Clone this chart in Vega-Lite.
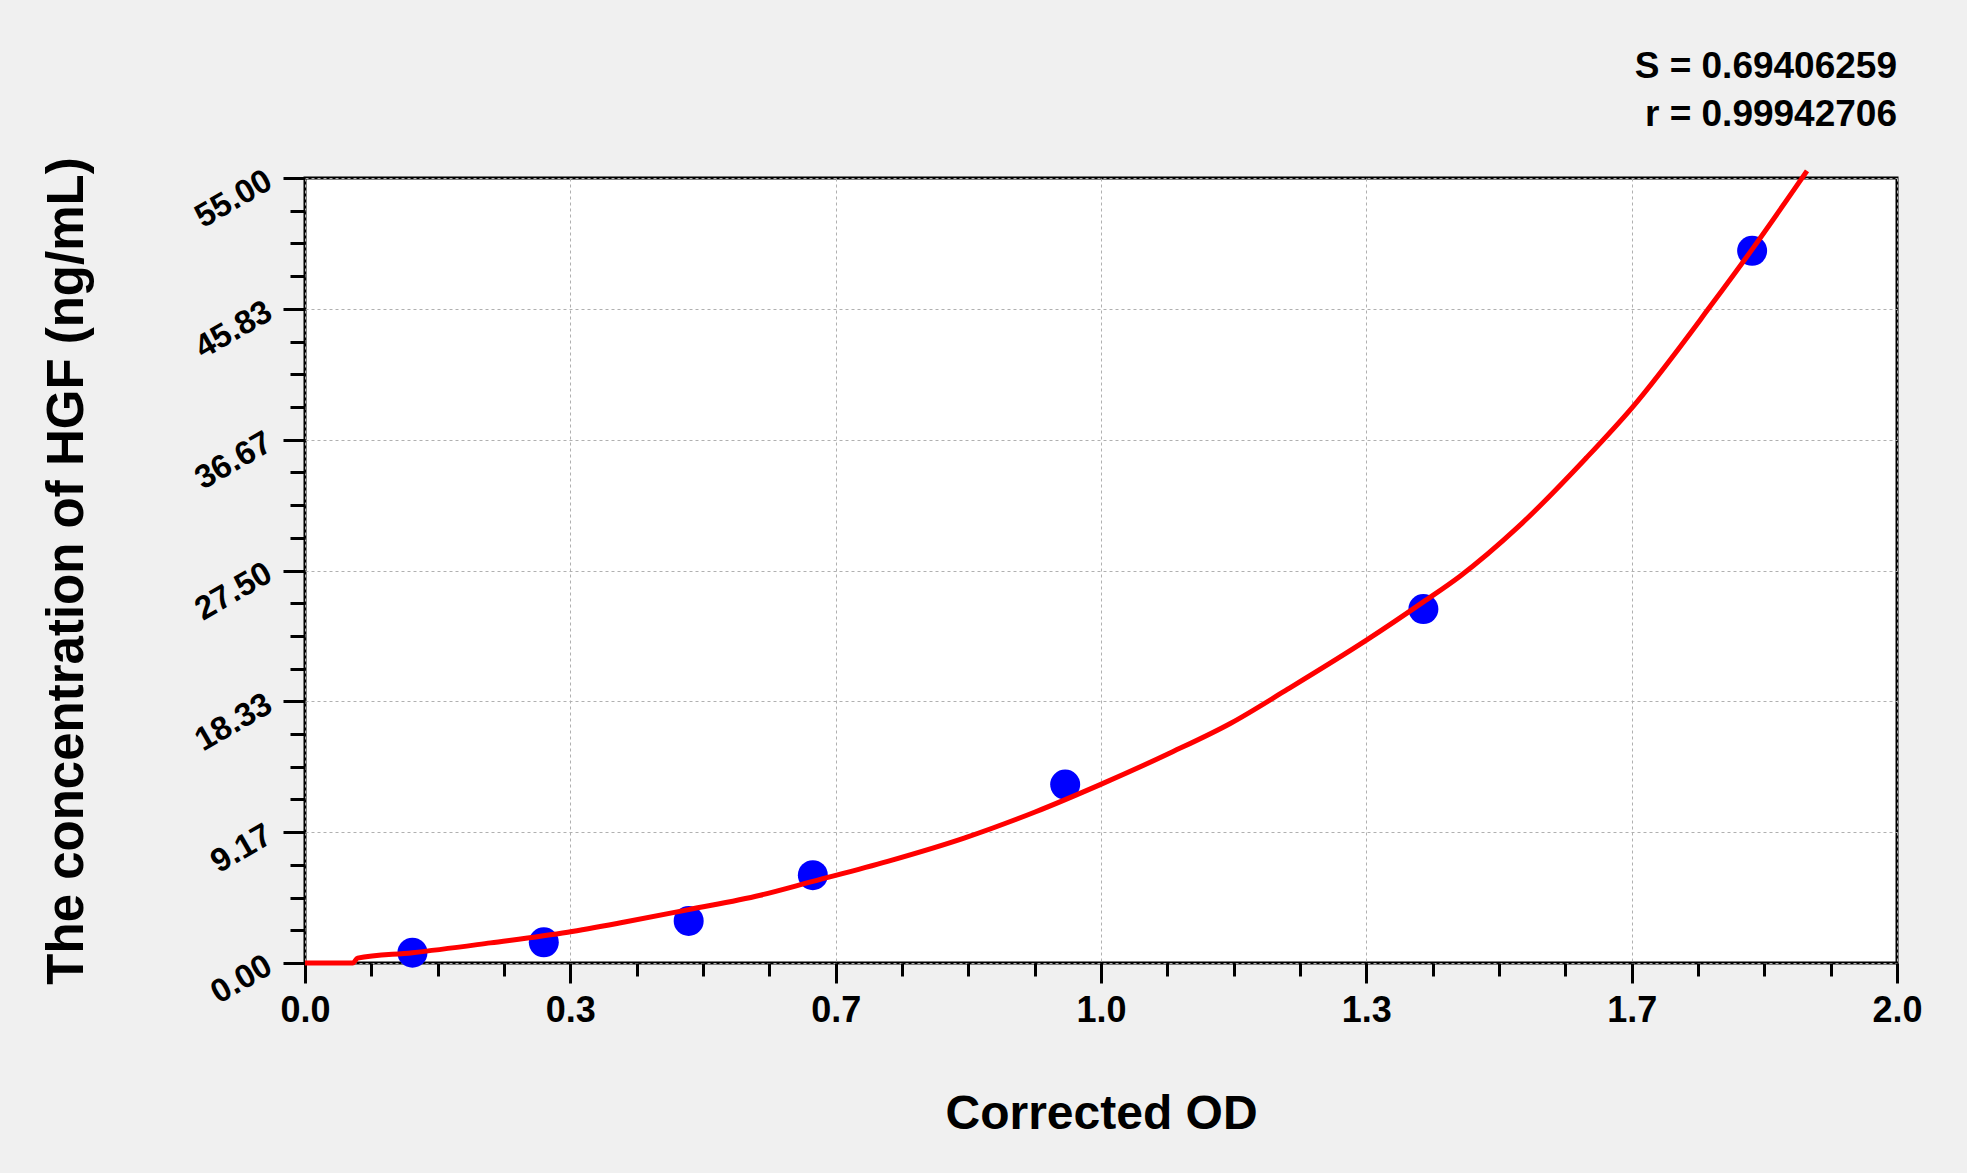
{
  "$schema": "https://vega.github.io/schema/vega-lite/v6.json",
  "autosize": "none",
  "width": 1592,
  "height": 785,
  "padding": {"left": 305, "top": 178, "right": 70, "bottom": 210},
  "background": "#f0f0f0",
  "title": {
    "text": ["S = 0.69406259", "r = 0.99942706"],
    "anchor": "end",
    "frame": "group",
    "align": "right",
    "font": "Liberation Sans",
    "fontSize": 37,
    "fontWeight": "bold",
    "color": "black",
    "lineHeight": 48,
    "offset": 23
  },
  "data": {
    "values": [
      {"series": "standard", "od": 0.135, "conc": 0.72},
      {"series": "standard", "od": 0.3, "conc": 1.45},
      {"series": "standard", "od": 0.482, "conc": 2.95},
      {"series": "standard", "od": 0.638, "conc": 6.15},
      {"series": "standard", "od": 0.955, "conc": 12.5},
      {"series": "standard", "od": 1.405, "conc": 24.8},
      {"series": "standard", "od": 1.818, "conc": 49.9},
      {"series": "fit", "od": 0.0, "conc": 0.0},
      {"series": "fit", "od": 0.06, "conc": 0.0},
      {"series": "fit", "od": 0.066, "conc": 0.34},
      {"series": "fit", "od": 0.135, "conc": 0.72},
      {"series": "fit", "od": 0.233, "conc": 1.41},
      {"series": "fit", "od": 0.33, "conc": 2.15},
      {"series": "fit", "od": 0.4, "conc": 2.85},
      {"series": "fit", "od": 0.482, "conc": 3.74},
      {"series": "fit", "od": 0.572, "conc": 4.75},
      {"series": "fit", "od": 0.638, "conc": 5.72},
      {"series": "fit", "od": 0.732, "conc": 7.12},
      {"series": "fit", "od": 0.828, "conc": 8.75},
      {"series": "fit", "od": 0.918, "conc": 10.6},
      {"series": "fit", "od": 0.999, "conc": 12.5},
      {"series": "fit", "od": 1.09, "conc": 14.8},
      {"series": "fit", "od": 1.163, "conc": 16.8},
      {"series": "fit", "od": 1.235, "conc": 19.2},
      {"series": "fit", "od": 1.333, "conc": 22.6},
      {"series": "fit", "od": 1.405, "conc": 25.3},
      {"series": "fit", "od": 1.451, "conc": 27.1},
      {"series": "fit", "od": 1.523, "conc": 30.5},
      {"series": "fit", "od": 1.609, "conc": 35.35},
      {"series": "fit", "od": 1.667, "conc": 38.9},
      {"series": "fit", "od": 1.768, "conc": 46.2},
      {"series": "fit", "od": 1.818, "conc": 50.0},
      {"series": "fit", "od": 1.887, "conc": 55.5}
    ]
  },
  "encoding": {
    "x": {
      "field": "od",
      "type": "quantitative",
      "scale": {"domain": [0, 2], "nice": false, "zero": false},
      "axis": {
        "title": "Corrected OD",
        "values": [0, 0.0833333, 0.1666667, 0.25, 0.3333333, 0.4166667, 0.5, 0.5833333, 0.6666667, 0.75, 0.8333333, 0.9166667, 1, 1.0833333, 1.1666667, 1.25, 1.3333333, 1.4166667, 1.5, 1.5833333, 1.6666667, 1.75, 1.8333333, 1.9166667, 2],
        "labelExpr": "abs(datum.value * 3 - round(datum.value * 3)) < 0.001 ? format(datum.value, '.1f') : ''",
        "tickSize": {"condition": {"test": "abs(datum.value * 3 - round(datum.value * 3)) < 0.001", "value": 20}, "value": 13},
        "gridOpacity": {"condition": {"test": "abs(datum.value * 3 - round(datum.value * 3)) < 0.001", "value": 1}, "value": 0},
        "labelFontSize": 36,
        "labelPadding": 10,
        "labelFlush": false,
        "labelOverlap": false,
        "titlePadding": 62
      }
    },
    "y": {
      "field": "conc",
      "type": "quantitative",
      "scale": {"domain": [0, 55], "nice": false, "zero": true},
      "axis": {
        "title": "The concentration of HGF (ng/mL)",
        "values": [0, 2.2916667, 4.5833333, 6.875, 9.1666667, 11.4583333, 13.75, 16.0416667, 18.3333333, 20.625, 22.9166667, 25.2083333, 27.5, 29.7916667, 32.0833333, 34.375, 36.6666667, 38.9583333, 41.25, 43.5416667, 45.8333333, 48.125, 50.4166667, 52.7083333, 55],
        "labelExpr": "abs(datum.value * 6 / 55 - round(datum.value * 6 / 55)) < 0.001 ? format(datum.value, '.2f') : ''",
        "tickSize": {"condition": {"test": "abs(datum.value * 6 / 55 - round(datum.value * 6 / 55)) < 0.001", "value": 22}, "value": 15},
        "gridOpacity": {"condition": {"test": "abs(datum.value * 6 / 55 - round(datum.value * 6 / 55)) < 0.001", "value": 1}, "value": 0},
        "labelFontSize": 33,
        "labelAngle": -30,
        "labelPadding": 14,
        "labelFlush": false,
        "labelOverlap": false,
        "titleFontSize": 51,
        "titlePadding": 96
      }
    }
  },
  "layer": [
    {
      "transform": [{"filter": "datum.series == 'standard'"}],
      "mark": {"type": "circle", "color": "#0000ff", "opacity": 1, "size": 900}
    },
    {
      "transform": [{"filter": "datum.series == 'fit'"}],
      "mark": {"type": "line", "color": "#ff0000", "strokeWidth": 5, "clip": false, "interpolate": "monotone"}
    }
  ],
  "config": {
    "view": {"fill": "white", "stroke": "black", "strokeWidth": 3},
    "axis": {
      "domain": false,
      "grid": true,
      "gridColor": "#b0b0b0",
      "gridDash": [3, 3],
      "gridWidth": 1,
      "tickColor": "black",
      "tickWidth": 3,
      "labelFont": "Liberation Sans",
      "labelFontWeight": "bold",
      "labelColor": "black",
      "titleFont": "Liberation Sans",
      "titleFontWeight": "bold",
      "titleFontSize": 48,
      "titleColor": "black"
    }
  }
}
